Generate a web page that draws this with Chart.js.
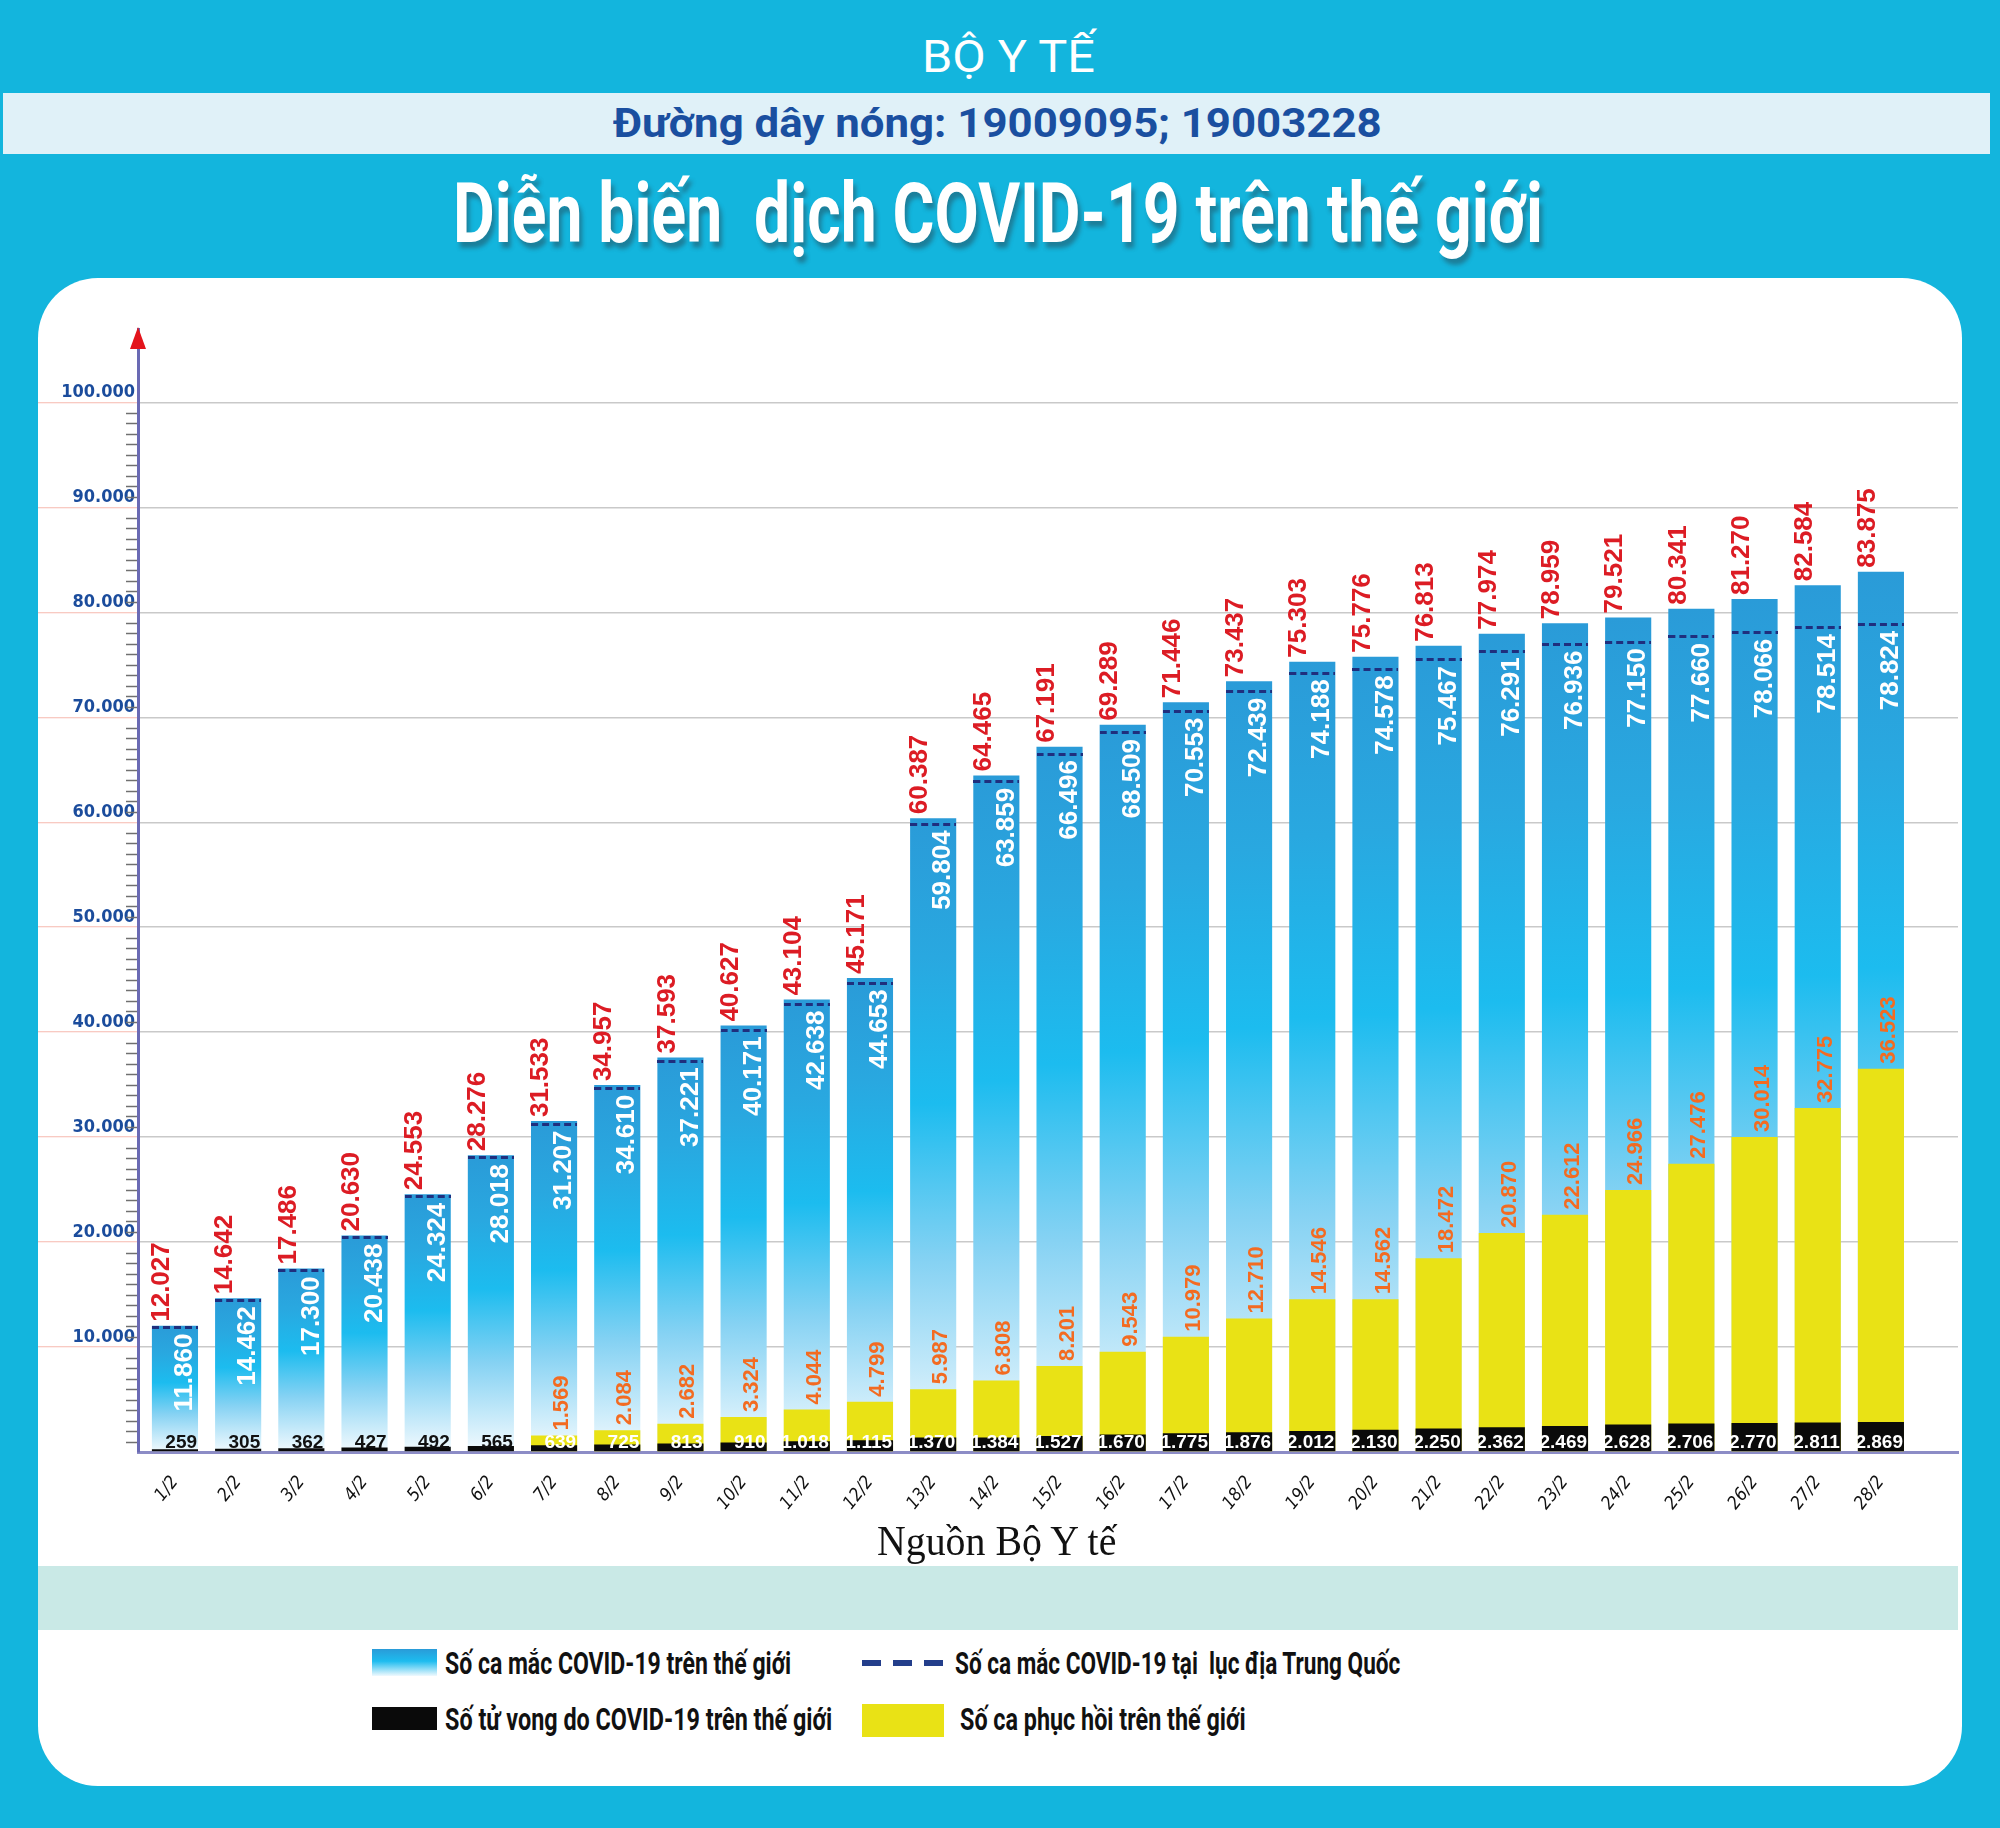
<!DOCTYPE html>
<html lang="vi">
<head>
<meta charset="UTF-8">
<title>Diễn biến dịch COVID-19 trên thế giới</title>
<script src="https://cdn.jsdelivr.net/npm/chart.js@4.4.0/dist/chart.umd.min.js"></script>
<style>
  html, body { margin: 0; padding: 0; }
  body {
    width: 2000px; height: 1828px; position: relative; overflow: hidden;
    background: #13b5dd; font-family: Roboto, 'Open Sans', sans-serif;
  }
  .fit { position: absolute; white-space: pre; line-height: 1.2; transform-origin: left center; }
  #boyte { color: #fff; font-size: 45px; font-weight: 400; }
  #hotlineBand { position: absolute; left: 3px; top: 93px; width: 1987px; height: 61px; background: #e0f1f8; }
  #hotline { color: #1a4fa0; font-size: 41px; font-weight: 700; }
  #title { color: #fff; font-size: 84px; font-weight: 700; text-shadow: 4px 6px 5px rgba(40, 60, 70, 0.45); }
  #panel { position: absolute; left: 38px; top: 278px; width: 1924px; height: 1508px; background: #fff; border-radius: 60px; }
  #band { position: absolute; left: 38px; top: 1566px; width: 1920px; height: 64px; background: #c9e9e6; }
  #source { font-family: 'Liberation Serif', 'DejaVu Serif', serif; font-size: 42px; color: #111; }
  #chartBox { position: absolute; left: 38px; top: 290px; width: 1924px; height: 1230px; }
  .sw { position: absolute; }
  .lg { font-size: 32px; font-weight: 700; color: #111; }
</style>
</head>
<body>
  <div id="hotlineBand"></div>
  <div class="fit" id="boyte" data-w="173" data-cx="1008" data-cy="57">BỘ Y TẾ</div>
  <div class="fit" id="hotline" data-w="769" data-cx="997" data-cy="123">Đường dây nóng: 19009095; 19003228</div>
  <div class="fit" id="title" data-w="1090" data-cx="998" data-cy="214">Diễn biến  dịch COVID-19 trên thế giới</div>

  <div id="panel"></div>
  <div id="band"></div>
  <div id="chartBox"><canvas id="covid" width="1924" height="1230"></canvas></div>
  <div class="fit" id="source" data-w="239" data-cx="996" data-cy="1541">Nguồn Bộ Y tế</div>

  <!-- legend -->
  <div class="sw" style="left:372px; top:1649px; width:65px; height:27px; background:linear-gradient(#2a9bd8, #1dbcef 45%, #f0f9fe);"></div>
  <div class="fit lg" data-w="346" data-x="445" data-cy="1663">Số ca mắc COVID-19 trên thế giới</div>
  <div class="sw" style="left:862px; top:1660px; width:82px; height:6px; background:repeating-linear-gradient(90deg, #233e8b 0 19px, transparent 19px 31px);"></div>
  <div class="fit lg" data-w="445" data-x="955" data-cy="1663">Số ca mắc COVID-19 tại  lục địa Trung Quốc</div>
  <div class="sw" style="left:372px; top:1707px; width:65px; height:23px; background:#0a0a0a;"></div>
  <div class="fit lg" data-w="387" data-x="445" data-cy="1719">Số tử vong do COVID-19 trên thế giới</div>
  <div class="sw" style="left:862px; top:1704px; width:82px; height:33px; background:#e9e215;"></div>
  <div class="fit lg" data-w="286" data-x="960" data-cy="1719">Số ca phục hồi trên thế giới</div>

<script>
// ---- data read from the infographic ----
var dates = ['1/2', '2/2', '3/2', '4/2', '5/2', '6/2', '7/2', '8/2', '9/2', '10/2', '11/2', '12/2', '13/2', '14/2',
  '15/2', '16/2', '17/2', '18/2', '19/2', '20/2', '21/2', '22/2', '23/2', '24/2', '25/2', '26/2', '27/2', '28/2'];
var worldCases = [12027, 14642, 17486, 20630, 24553, 28276, 31533, 34957, 37593, 40627, 43104, 45171, 60387, 64465,
  67191, 69289, 71446, 73437, 75303, 75776, 76813, 77974, 78959, 79521, 80341, 81270, 82584, 83875];
var chinaCases = [11860, 14462, 17300, 20438, 24324, 28018, 31207, 34610, 37221, 40171, 42638, 44653, 59804, 63859,
  66496, 68509, 70553, 72439, 74188, 74578, 75467, 76291, 76936, 77150, 77660, 78066, 78514, 78824];
var recovered = [null, null, null, null, null, null, 1569, 2084, 2682, 3324, 4044, 4799, 5987, 6808,
  8201, 9543, 10979, 12710, 14546, 14562, 18472, 20870, 22612, 24966, 27476, 30014, 32775, 36523];
var deaths = [259, 305, 362, 427, 492, 565, 639, 725, 813, 910, 1018, 1115, 1370, 1384,
  1527, 1670, 1775, 1876, 2012, 2130, 2250, 2362, 2469, 2628, 2706, 2770, 2811, 2869];
var yTicks = [0, 10000, 20000, 30000, 40000, 50000, 60000, 70000, 80000, 90000, 100000];

// squeeze the html headings into the widths they take in the original
document.querySelectorAll('.fit').forEach(function (el) {
  var w = el.offsetWidth, h = el.offsetHeight, target = +el.dataset.w;
  el.style.transform = 'scaleX(' + (target / w) + ')';
  el.style.left = (el.dataset.x ? +el.dataset.x : +el.dataset.cx - target / 2) + 'px';
  el.style.top = (+el.dataset.cy - h / 2) + 'px';
});

var narrow = "'Liberation Sans Narrow', 'DejaVu Sans Condensed', 'Arial Narrow', sans-serif";
var boldFont = "'Liberation Sans', Arial, sans-serif";

function fmt(v) {
  return String(v).replace(/\B(?=(\d{3})+(?!\d))/g, '.');
}
function points(arr) {
  return arr.map(function (v, i) { return { x: i + 1, y: v }; });
}

// blue bar: darker on top, cyan in the middle, fading out to the base
function caseGradient(c) {
  var chart = c.chart;
  if (c.type !== 'data' || !chart.chartArea) return '#2aa6df';
  var y = chart.scales.y;
  var top = y.getPixelForValue(c.parsed.y), base = y.getPixelForValue(0);
  var g = chart.ctx.createLinearGradient(0, top, 0, base);
  g.addColorStop(0, '#2a9bd8');
  g.addColorStop(0.22, '#29a8e0');
  g.addColorStop(0.45, '#1cbcef');
  g.addColorStop(0.7, '#86d2f3');
  g.addColorStop(1, '#f2fafe');
  return g;
}

// dashed marker for the mainland China value
var dashMark = document.createElement('canvas');
dashMark.width = 46;
dashMark.height = 3;
(function () {
  var d = dashMark.getContext('2d');
  d.fillStyle = '#1f2f7e';
  for (var x = 0; x < 46; x += 11) d.fillRect(x, 0, 7, 3);
})();

function rotatedText(ctx, text, x, y, align, font, color) {
  ctx.save();
  ctx.translate(x, y);
  ctx.rotate(-Math.PI / 2);
  ctx.font = font;
  ctx.fillStyle = color;
  ctx.textAlign = align;
  ctx.textBaseline = 'middle';
  ctx.fillText(text, 0, 0);
  ctx.restore();
}

const valueLabels = {
  id: 'valueLabels',
  afterDatasetsDraw: function (chart) {
    const ctx = chart.ctx;
    ctx.save();
    chart.getDatasetMeta(3).data.forEach(function (el, i) {
      rotatedText(ctx, fmt(worldCases[i]), el.x - 13, el.y - 4, 'left', 'bold 26px ' + boldFont, '#dc1c24');
    });
    chart.getDatasetMeta(2).data.forEach(function (pt, i) {
      rotatedText(ctx, fmt(chinaCases[i]), pt.x + 10, pt.y + 6, 'right', 'bold 26px ' + boldFont, '#ffffff');
    });
    chart.getDatasetMeta(1).data.forEach(function (el, i) {
      if (recovered[i] == null) return;
      rotatedText(ctx, fmt(recovered[i]), el.x + 8, el.y - 5, 'left', 'bold 22px ' + boldFont, '#f36b21');
    });
    chart.getDatasetMeta(0).data.forEach(function (el, i) {
      ctx.font = 'bold 19px ' + boldFont;
      ctx.fillStyle = recovered[i] == null ? '#111111' : '#ffffff';
      ctx.textAlign = 'right';
      ctx.textBaseline = 'alphabetic';
      ctx.fillText(fmt(deaths[i]), el.x + el.width / 2 - 1, el.base - 3);
    });
    ctx.restore();
  }
};

// small ticks on the value axis and the red arrow on top of it
const axisDecor = {
  id: 'axisDecor',
  afterDraw: function (chart) {
    const ctx = chart.ctx, area = chart.chartArea, y = chart.scales.y;
    const ax = area.left;
    ctx.save();
    ctx.strokeStyle = '#707070';
    ctx.lineWidth = 1.5;
    for (let v = 1000; v < 100000; v += 1000) {
      if (v % 10000 === 0) continue;
      const py = Math.round(y.getPixelForValue(v)) + 0.5;
      ctx.beginPath();
      ctx.moveTo(ax - 12, py);
      ctx.lineTo(ax - 1, py);
      ctx.stroke();
    }
    ctx.fillStyle = '#e3141c';
    ctx.beginPath();
    ctx.moveTo(ax, area.top - 2);
    ctx.lineTo(ax - 8, area.top + 20);
    ctx.lineTo(ax + 8, area.top + 20);
    ctx.closePath();
    ctx.fill();
    ctx.restore();
  }
};

var ctx = document.getElementById('covid').getContext('2d');
var myChart = new Chart(ctx, {
  data: {
    datasets: [{
      type: 'bar',
      label: 'Số tử vong do COVID-19 trên thế giới',
      data: points(deaths),
      backgroundColor: '#0a0a0a'
    }, {
      type: 'bar',
      label: 'Số ca phục hồi trên thế giới',
      data: points(recovered),
      backgroundColor: '#e9e215'
    }, {
      type: 'line',
      label: 'Số ca mắc COVID-19 tại lục địa Trung Quốc',
      data: points(chinaCases),
      showLine: false,
      pointStyle: dashMark,
      pointRadius: 1,
      borderWidth: 0
    }, {
      type: 'bar',
      label: 'Số ca mắc COVID-19 trên thế giới',
      data: points(worldCases),
      backgroundColor: caseGradient
    }]
  },
  options: {
    responsive: false,
    animation: false,
    events: [],
    layout: { autoPadding: false, padding: { top: 39, right: 4, left: 0, bottom: 0 } },
    datasets: {
      bar: { grouped: false, barPercentage: 0.73, categoryPercentage: 1 }
    },
    plugins: {
      legend: { display: false },
      tooltip: { enabled: false }
    },
    scales: {
      x: {
        type: 'linear',
        offset: false,
        min: 0.415,
        max: 29.22,
        afterBuildTicks: function (s) { s.ticks = dates.map(function (d, i) { return { value: i + 1 }; }); },
        afterFit: function (s) { s.height = 68; s.paddingLeft = 0; s.paddingRight = 0; },
        grid: { display: false, offset: false },
        border: { color: '#8c8cc6', width: 3 },
        ticks: {
          autoSkip: false,
          minRotation: 52,
          maxRotation: 52,
          padding: 12,
          color: '#111',
          font: { family: narrow, size: 18, style: 'italic' },
          callback: function (v) { return dates[v - 1]; }
        }
      },
      y: {
        min: 0,
        max: 107000,
        afterBuildTicks: function (s) { s.ticks = yTicks.map(function (v) { return { value: v }; }); },
        afterFit: function (s) { s.width = 100; },
        border: { color: '#6a6ab4', width: 3 },
        grid: {
          color: function (c) { return c.tick && c.tick.value === 0 ? 'rgba(0,0,0,0)' : '#c9c9c9'; },
          lineWidth: 1.5,
          tickLength: 100,
          tickWidth: 1,
          tickColor: function (c) { return c.tick && c.tick.value === 0 ? 'rgba(0,0,0,0)' : '#f6b8ae'; }
        },
        ticks: {
          padding: -97,
          labelOffset: -10,
          color: '#1b4c9c',
          font: { family: narrow, size: 18, weight: 'bold' },
          callback: function (v) { return v === 0 ? '' : fmt(v); }
        }
      }
    }
  },
  plugins: [valueLabels, axisDecor]
});
</script>
</body>
</html>
